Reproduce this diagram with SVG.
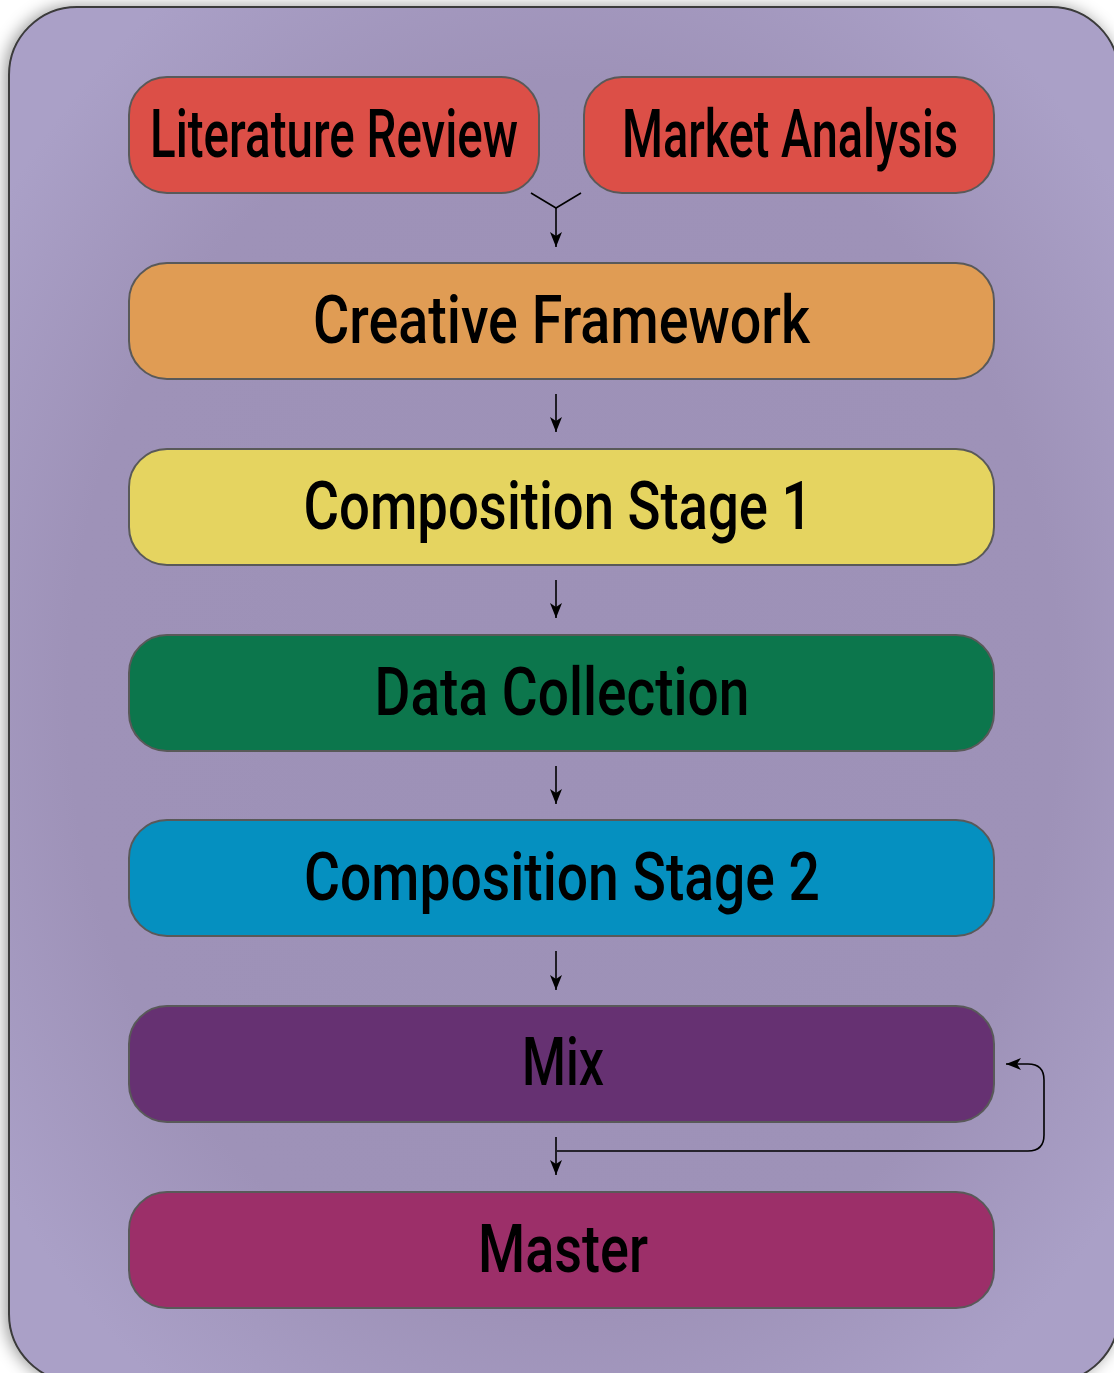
<svg xmlns="http://www.w3.org/2000/svg" width="1114" height="1373" viewBox="0 0 1114 1373">
  <style>
    .node rect { stroke: #595959; stroke-width: 2; }
    .node text { font-family: Roboto, "Liberation Sans", sans-serif; font-size: 66px; font-weight: 500; fill: #000; text-anchor: middle; }
    .conn { fill: none; stroke: #000; stroke-width: 1.6; }
  </style>
  <defs>
    <radialGradient id="panelFill" cx="0.5" cy="0.5" r="0.62">
      <stop offset="0" stop-color="#9d91b7"/>
      <stop offset="0.72" stop-color="#9e92b8"/>
      <stop offset="1" stop-color="#aaa0c7"/>
    </radialGradient>
    <filter id="panelShadow" x="-5%" y="-5%" width="110%" height="110%">
      <feDropShadow dx="-3" dy="0" stdDeviation="8" flood-color="#000" flood-opacity="0.4"/>
    </filter>
    <!-- filled arrowhead with a notched back, drawn pointing along +x -->
    <marker id="arrow" viewBox="0 0 16 12" refX="15" refY="6" markerWidth="16" markerHeight="12" markerUnits="userSpaceOnUse" orient="auto">
      <path d="M0,0 L15,6 L0,12 L4,6 Z" fill="#000"/>
    </marker>
  </defs>

  <!-- background panel -->
  <rect x="9" y="7" width="1110" height="1375" rx="68" ry="68" fill="url(#panelFill)" stroke="#3a3a3a" stroke-width="2" filter="url(#panelShadow)"/>

  <!-- connectors -->
  <g id="connectors">
    <polyline class="conn" points="531,193 556,208 581,193"/>
    <line class="conn" x1="556" y1="208" x2="556" y2="247" marker-end="url(#arrow)"/>
    <line class="conn" x1="556" y1="394" x2="556" y2="432" marker-end="url(#arrow)"/>
    <line class="conn" x1="556" y1="580" x2="556" y2="618" marker-end="url(#arrow)"/>
    <line class="conn" x1="556" y1="766" x2="556" y2="804" marker-end="url(#arrow)"/>
    <line class="conn" x1="556" y1="951" x2="556" y2="990" marker-end="url(#arrow)"/>
    <line class="conn" x1="556" y1="1137" x2="556" y2="1175" marker-end="url(#arrow)"/>
    <path class="conn" d="M557,1151 L1028,1151 Q1044,1151 1044,1135 L1044,1080 Q1044,1064 1028,1064 L1006,1064" marker-end="url(#arrow)"/>
  </g>

  <!-- nodes -->
  <g id="literature-review" class="node">
    <rect x="129" y="77" width="410" height="116" rx="38" fill="#dc4f47"/>
    <text x="334" y="157" textLength="368" lengthAdjust="spacingAndGlyphs">Literature Review</text>
  </g>
  <g id="market-analysis" class="node">
    <rect x="584" y="77" width="410" height="116" rx="38" fill="#dc4f47"/>
    <text x="790" y="157" textLength="336" lengthAdjust="spacingAndGlyphs">Market Analysis</text>
  </g>
  <g id="creative-framework" class="node">
    <rect x="129" y="263" width="865" height="116" rx="38" fill="#e09c54"/>
    <text x="561.5" y="343" textLength="497" lengthAdjust="spacingAndGlyphs">Creative Framework</text>
  </g>
  <g id="composition-stage-1" class="node">
    <rect x="129" y="449" width="865" height="116" rx="38" fill="#e5d460"/>
    <text x="558" y="529" textLength="509" lengthAdjust="spacingAndGlyphs">Composition Stage 1</text>
  </g>
  <g id="data-collection" class="node">
    <rect x="129" y="635" width="865" height="116" rx="38" fill="#0c764c"/>
    <text x="562" y="715" textLength="375" lengthAdjust="spacingAndGlyphs">Data Collection</text>
  </g>
  <g id="composition-stage-2" class="node">
    <rect x="129" y="820" width="865" height="116" rx="38" fill="#0590c0"/>
    <text x="562" y="900" textLength="516" lengthAdjust="spacingAndGlyphs">Composition Stage 2</text>
  </g>
  <g id="mix" class="node">
    <rect x="129" y="1006" width="865" height="116" rx="38" fill="#663172"/>
    <text x="563" y="1085" textLength="82" lengthAdjust="spacingAndGlyphs">Mix</text>
  </g>
  <g id="master" class="node">
    <rect x="129" y="1192" width="865" height="116" rx="38" fill="#9c2f69"/>
    <text x="563" y="1272" textLength="170" lengthAdjust="spacingAndGlyphs">Master</text>
  </g>
</svg>
